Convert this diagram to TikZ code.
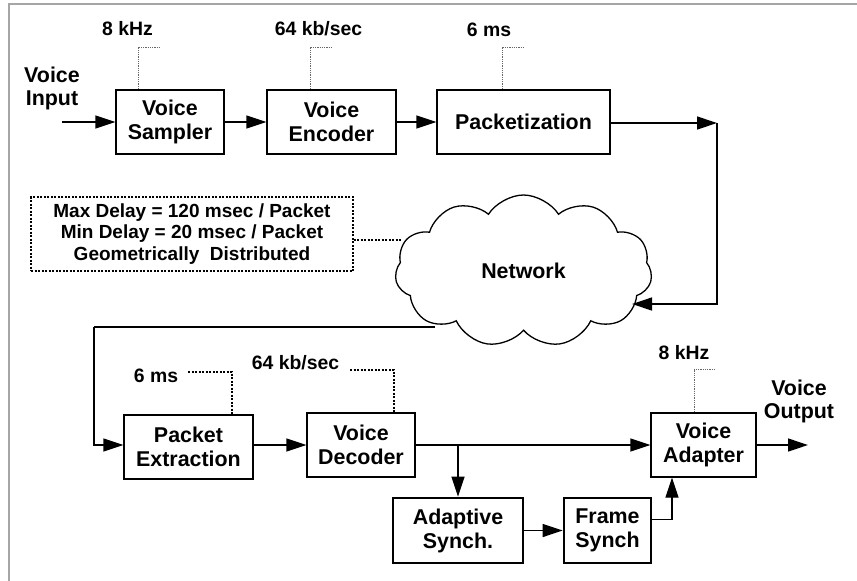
\documentclass[tikz,border=0pt]{standalone}
\usepackage{fontspec}
\setmainfont{Liberation Sans}
\usetikzlibrary{arrows.meta,shapes.symbols}

\begin{document}
\begin{tikzpicture}[x=1pt,y=-1pt,
  blk/.style={draw, line width=1.3pt, inner sep=0pt, align=center,
    font=\bfseries\fontsize{21.4}{24}\selectfont},
  thickblk/.style={blk, line width=2.6pt},
  lbl/.style={inner sep=0pt, font=\bfseries\fontsize{19.4}{22}\selectfont},
  bigtxt/.style={inner sep=0pt, align=center, font=\bfseries\fontsize{21.4}{23}\selectfont},
  arr/.style={line width=1.3pt, -{Triangle[length=20pt,width=13pt]}},
  wire/.style={line width=1.3pt},
  leader/.style={gray!80!black, line width=0.8pt, dash pattern=on 1pt off 0.8pt},
  leaderb/.style={black, line width=1.2pt, dash pattern=on 2pt off 1.5pt},
]
\useasboundingbox (0,0) rectangle (857,581);

% outer frame (top and left edges)
\draw[gray!70, line width=2pt] (9,581) -- (9,4) -- (857,4);

% transmit chain
\node[blk, minimum width=108pt, minimum height=64pt] (vs) at (170,122) {Voice\\Sampler};
\node[blk, minimum width=129pt, minimum height=64pt] (ve) at (331.5,122) {Voice\\Encoder};
\node[blk, minimum width=173pt, minimum height=64pt] (pk) at (523.5,122) {Packetization};

% receive chain
\node[blk, minimum width=129pt, minimum height=64pt] (pe) at (188.5,447) {Packet\\Extraction};
\node[blk, minimum width=108pt, minimum height=64pt] (vd) at (361,445) {Voice\\Decoder};
\node[blk, minimum width=105pt, minimum height=64pt] (va) at (703.5,445) {Voice\\Adapter};
\node[thickblk, minimum width=130pt, minimum height=65pt] (as) at (458,530.5) {Adaptive\\Synch.};
\node[thickblk, minimum width=87pt, minimum height=65pt] (fs) at (607.5,530.5) {Frame\\Synch};

% network cloud
\node[cloud, draw, line width=1.3pt, cloud puffs=11, cloud puff arc=115, aspect=1.69,
  minimum width=257pt, minimum height=152pt, inner sep=0pt,
  font=\bfseries\fontsize{21.4}{24}\selectfont] (net) at (523.5,271) {Network};

% delay annotation
\node[draw, line width=1.2pt, dash pattern=on 2pt off 1.5pt, align=center,
  minimum width=322pt, minimum height=74pt, inner sep=0pt,
  font=\bfseries\fontsize{19}{21.5}\selectfont] (db) at (192,234)
  {Max Delay = 120 msec / Packet\\Min Delay = 20 msec / Packet\\Geometrically~ Distributed};

% input / output labels
\node[bigtxt] (tin) at (52,88.5) {Voice\\Input};
\node[bigtxt] (tout) at (799,401.5) {Voice\\Output};

% parameter labels
\node[lbl] (p1) at (127.5,29) {8 kHz};
\node[lbl] (p2) at (318.5,29) {64 kb/sec};
\node[lbl] (p3) at (489,30) {6 ms};
\node[lbl] (p4) at (156,376) {6 ms};
\node[lbl] (p5) at (295.5,363) {64 kb/sec};
\node[lbl] (p6) at (684,353) {8 kHz};

% free ends of connectors
\coordinate (vin) at (62,122);
\coordinate (vout) at (808,445);
\coordinate (c1) at (717,123);
\coordinate (netin) at (632,304);
\coordinate (netout) at (435,327);
\coordinate (c3) at (94,327);
\coordinate (netleft) at (402,240);
\coordinate (l1) at (160,47);
\coordinate (l2) at (332,47);
\coordinate (l3) at (524,47);
\coordinate (l4) at (188,372);
\coordinate (l5) at (350,370);
\coordinate (l6) at (715,369);

% signal flow
\draw[arr] (vin) -- (vs.west);
\draw[arr] (vs) -- (ve);
\draw[arr] (ve) -- (pk);
\draw[arr] (pk.east |- c1) -- (c1);
\draw[arr] (c1) |- (netin);
\draw[wire] (netout) -- (c3);
\draw[arr] (c3) |- (pe.west |- vd.west);
\draw[arr] (pe.east |- vd.west) -- (vd.west);
\draw[arr] (vd.east) -- (va.west);
\draw[arr] (as.north |- vd.east) -- (as.north);
\draw[arr] (as.east) -- (fs.west);
\draw[arr] ([yshift=11pt]fs.east) -| ([xshift=-31.5pt]va.south);
\draw[arr] (va.east) -- (vout);

% annotation leaders
\draw[leaderb] ([yshift=-6pt]db.east) -- (netleft);
\draw[leader] (l1) -| ([xshift=-32pt]vs.north);
\draw[leader] (l2) -| ([xshift=-21.5pt]ve.north);
\draw[leader] (l3) -| ([xshift=-21.5pt]pk.north);
\draw[leaderb] (l4) -| ([xshift=43.5pt]pe.north);
\draw[leaderb] (l5) -| ([xshift=33pt]vd.north);
\draw[leader] (l6) -| ([xshift=-9.5pt]va.north);
\end{tikzpicture}
\end{document}
